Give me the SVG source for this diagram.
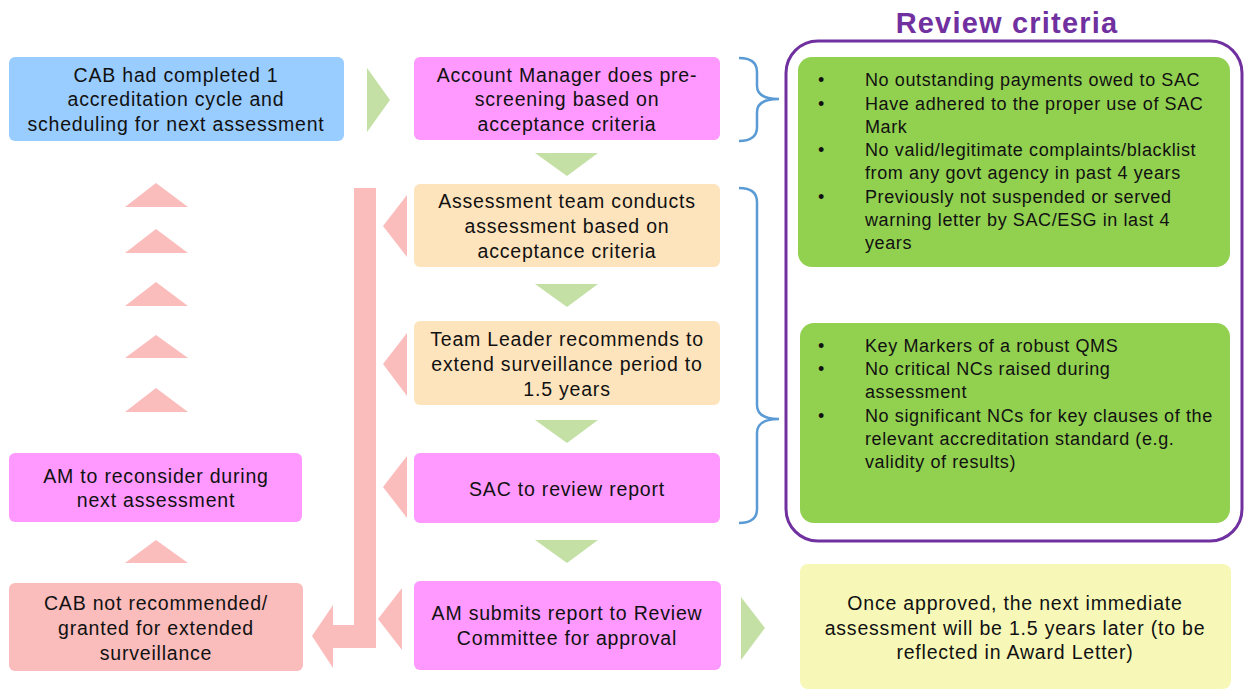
<svg xmlns="http://www.w3.org/2000/svg" width="1244" height="689" viewBox="0 0 1244 689">
<style>
text{font-family:"Liberation Sans",Arial,sans-serif;fill:#111;}
.t{font-size:19.5px;letter-spacing:0.8px;text-anchor:middle;}
.b{font-size:18px;letter-spacing:0.6px;}
.ga{fill:#c5e0a5;}
.pa{fill:#fbbcbc;}
.brace{fill:none;stroke:#5b9bd5;stroke-width:2.5;}
</style>
<rect width="1244" height="689" fill="#fff"/>
<g id="connectors">
<polygon class="ga" points="367,68 390,100 367,132"/>
<polygon class="ga" points="535,153 598,153 567,176"/>
<polygon class="ga" points="535,284 598,284 567,307"/>
<polygon class="ga" points="535,420 598,420 567,443"/>
<polygon class="ga" points="535,540 598,540 567,563"/>
<polygon class="ga" points="741,597 765,628 741,660"/>
<polygon class="pa" points="407,195 383,226 407,257"/>
<polygon class="pa" points="407,333 383,364 407,396"/>
<polygon class="pa" points="407,456 383,487 407,518"/>
<polygon class="pa" points="402,588 378,619 402,650"/>
<polygon class="pa" points="354,188 376,188 376,648 333,648 333,668 312,636 333,605 333,625 354,625"/>
<polygon class="pa" points="125,207 156,183 188,207"/>
<polygon class="pa" points="125,253 156,229 188,253"/>
<polygon class="pa" points="125,306 156,282 188,306"/>
<polygon class="pa" points="125,358 156,335 188,358"/>
<polygon class="pa" points="125,412 156,388 188,412"/>
<polygon class="pa" points="125,563 156,540 188,563"/>
<path class="brace" d="M739,58 Q757,58 757,72 L757,86 Q757,99 779,99 Q757,99 757,112 L757,127 Q757,141 739,141"/>
<path class="brace" d="M739,188 Q757,188 757,202 L757,405 Q757,419 779,419 Q757,419 757,433 L757,509 Q757,523 739,523"/>
</g>
<g id="n1"><rect x="9" y="57" width="335" height="84" rx="6" fill="#99ccff"/>
<text class="t" x="176" y="82">CAB had completed 1</text><text class="t" x="176" y="106">accreditation cycle and</text><text class="t" x="176" y="131">scheduling for next assessment</text></g>
<g id="n2"><rect x="414" y="57" width="306" height="83" rx="6" fill="#ff99ff"/>
<text class="t" x="567" y="82">Account Manager does pre-</text><text class="t" x="567" y="106">screening based on</text><text class="t" x="567" y="131">acceptance criteria</text></g>
<g id="n3"><rect x="414" y="184" width="306" height="83" rx="6" fill="#fde4bd"/>
<text class="t" x="567" y="208">Assessment team conducts</text><text class="t" x="567" y="233">assessment based on</text><text class="t" x="567" y="258">acceptance criteria</text></g>
<g id="n4"><rect x="414" y="321" width="306" height="84" rx="6" fill="#fde4bd"/>
<text class="t" x="567" y="346">Team Leader recommends to</text><text class="t" x="567" y="371">extend surveillance period to</text><text class="t" x="567" y="396">1.5 years</text></g>
<g id="n5"><rect x="414" y="453" width="306" height="70" rx="6" fill="#ff99ff"/>
<text class="t" x="567" y="496">SAC to review report</text></g>
<g id="n6"><rect x="414" y="581" width="307" height="89" rx="6" fill="#ff99ff"/>
<text class="t" x="567" y="620">AM submits report to Review</text><text class="t" x="567" y="645">Committee for approval</text></g>
<g id="n7"><rect x="9" y="453" width="293" height="69" rx="6" fill="#ff99ff"/>
<text class="t" x="156" y="483">AM to reconsider during</text><text class="t" x="156" y="507">next assessment</text></g>
<g id="n8"><rect x="9" y="583" width="294" height="88" rx="6" fill="#fbbcbc"/>
<text class="t" x="156" y="610">CAB not recommended/</text><text class="t" x="156" y="635">granted for extended</text><text class="t" x="156" y="660">surveillance</text></g>
<g id="n9"><rect x="800" y="564" width="431" height="125" rx="8" fill="#f7f8b8"/>
<text class="t" x="1015" y="610">Once approved, the next immediate</text><text class="t" x="1015" y="635">assessment will be 1.5 years later (to be</text><text class="t" x="1015" y="659">reflected in Award Letter)</text></g>
<g id="review">
<text x="1007" y="33" style="font-size:29px;letter-spacing:1.2px;font-weight:bold;fill:#7030a0;text-anchor:middle">Review criteria</text>
<rect x="786" y="41" width="456" height="500" rx="32" fill="none" stroke="#7030a0" stroke-width="3"/>
<g id="c1"><rect x="798" y="57" width="432" height="210" rx="14" fill="#92d050"/>
<text class="b" x="818" y="86">•</text><text class="b" x="865" y="86">No outstanding payments owed to SAC</text>
<text class="b" x="818" y="110">•</text><text class="b" x="865" y="110">Have adhered to the proper use of SAC</text>
<text class="b" x="865" y="133">Mark</text>
<text class="b" x="818" y="156">•</text><text class="b" x="865" y="156">No valid/legitimate  complaints/blacklist</text>
<text class="b" x="865" y="179">from any govt agency in past 4 years</text>
<text class="b" x="818" y="203">•</text><text class="b" x="865" y="203">Previously not suspended or served</text>
<text class="b" x="865" y="226">warning letter by SAC/ESG in last 4</text>
<text class="b" x="865" y="249">years</text>
</g>
<g id="c2"><rect x="800" y="323" width="430" height="200" rx="14" fill="#92d050"/>
<text class="b" x="818" y="352">•</text><text class="b" x="865" y="352">Key Markers of a robust QMS</text>
<text class="b" x="818" y="375">•</text><text class="b" x="865" y="375">No critical NCs raised during</text>
<text class="b" x="865" y="398">assessment</text>
<text class="b" x="818" y="422">•</text><text class="b" x="865" y="422">No significant NCs for key clauses of the</text>
<text class="b" x="865" y="445">relevant accreditation standard (e.g.</text>
<text class="b" x="865" y="468">validity  of results)</text>
</g>
</g>
</svg>
